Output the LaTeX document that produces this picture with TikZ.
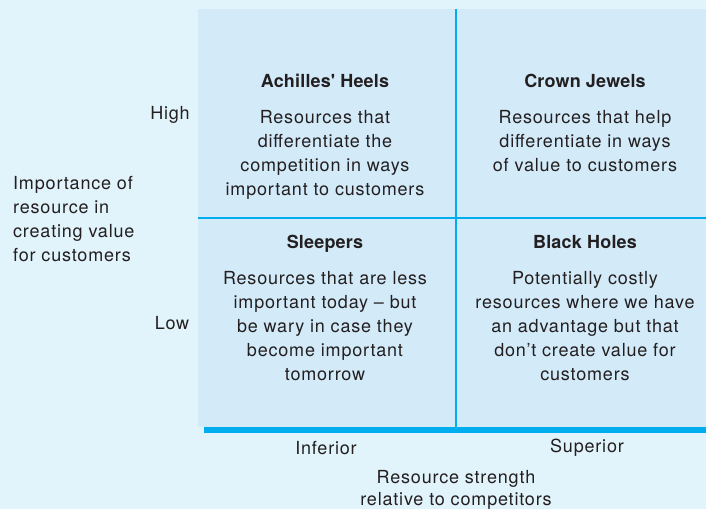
\documentclass[tikz,border=0pt]{standalone}
\usepackage{fontspec}
\setmainfont{TeX Gyre Heros}
\newfontfamily\bodyfont[Ligatures=TeX, LetterSpace=4.5]{TeX Gyre Heros}
\newfontfamily\headfont[Ligatures=TeX, LetterSpace=1]{TeX Gyre Heros}
\usepackage{xcolor}
\usepackage{tikz}
\usetikzlibrary{positioning}
\definecolor{pagebg}{HTML}{E1F3FB}
\definecolor{gridbg}{HTML}{D3EAF9}
\definecolor{gridline}{HTML}{00AEEF}
\definecolor{inktext}{HTML}{231F20}

\begin{document}
\begin{tikzpicture}[x=1pt, y=-1pt, node distance=23pt]
\tikzstyle{label} = [text=inktext, font=\bodyfont\fontsize{18}{24}\selectfont, align=center, inner sep=0pt]
\tikzstyle{title} = [label, font=\headfont\fontsize{18}{24}\selectfont\bfseries]
\tikzstyle{divider} = [draw=gridline, line width=2pt]

\fill[pagebg] (0,0) rectangle (706,509);
\useasboundingbox (0,0) rectangle (706,509);
\fill[gridbg] (198,9) rectangle (706,427);

% quadrant borders and axis bar
\coordinate (top) at (456,9);
\coordinate (bottom) at (456,427);
\coordinate (left) at (198,218);
\coordinate (right) at (706,218);
\coordinate (axisstart) at (204,430);
\coordinate (axisend) at (706,430);
\draw[divider] (top) -- (bottom);
\draw[divider] (left) -- (right);
\draw[draw=gridline, line width=6pt] (axisstart) -- (axisend);

% quadrants
\node[title, anchor=base] (heels) at (325,87.5) {Achilles\textquotesingle{} Heels};
\node[label, below=of heels.base] (heelstext) {Resources that\\differentiate the\\competition in ways\\important to customers};
\node[title, anchor=base] (jewels) at (585,87.5) {Crown Jewels};
\node[label, below=of jewels.base] (jewelstext) {Resources that help\\differentiate in ways\\of value to customers};
\node[title, anchor=base] (sleepers) at (325,248.5) {Sleepers};
\node[label, below=of sleepers.base] (sleeperstext) {Resources that are less\\important today -- but\\be wary in case they\\become important\\tomorrow};
\node[title, anchor=base] (holes) at (585,248.5) {Black Holes};
\node[label, below=of holes.base] (holestext) {Potentially costly\\resources where we have\\an advantage but that\\don’t create value for\\customers};

% axes
\node[label] (high) at (170,115) {High};
\node[label] (low) at (172,323) {Low};
\node[label, align=left, anchor=west] (yaxis) at (13,219) {Importance of\\resource in\\creating value\\for customers};
\node[label] (inferior) at (326,448) {Inferior};
\node[label] (superior) at (587,448) {Superior};
\node[label, font=\bodyfont\fontsize{18}{22}\selectfont, anchor=north] (xaxis) at (456,470) {Resource strength\\relative to competitors};
\end{tikzpicture}
\end{document}
